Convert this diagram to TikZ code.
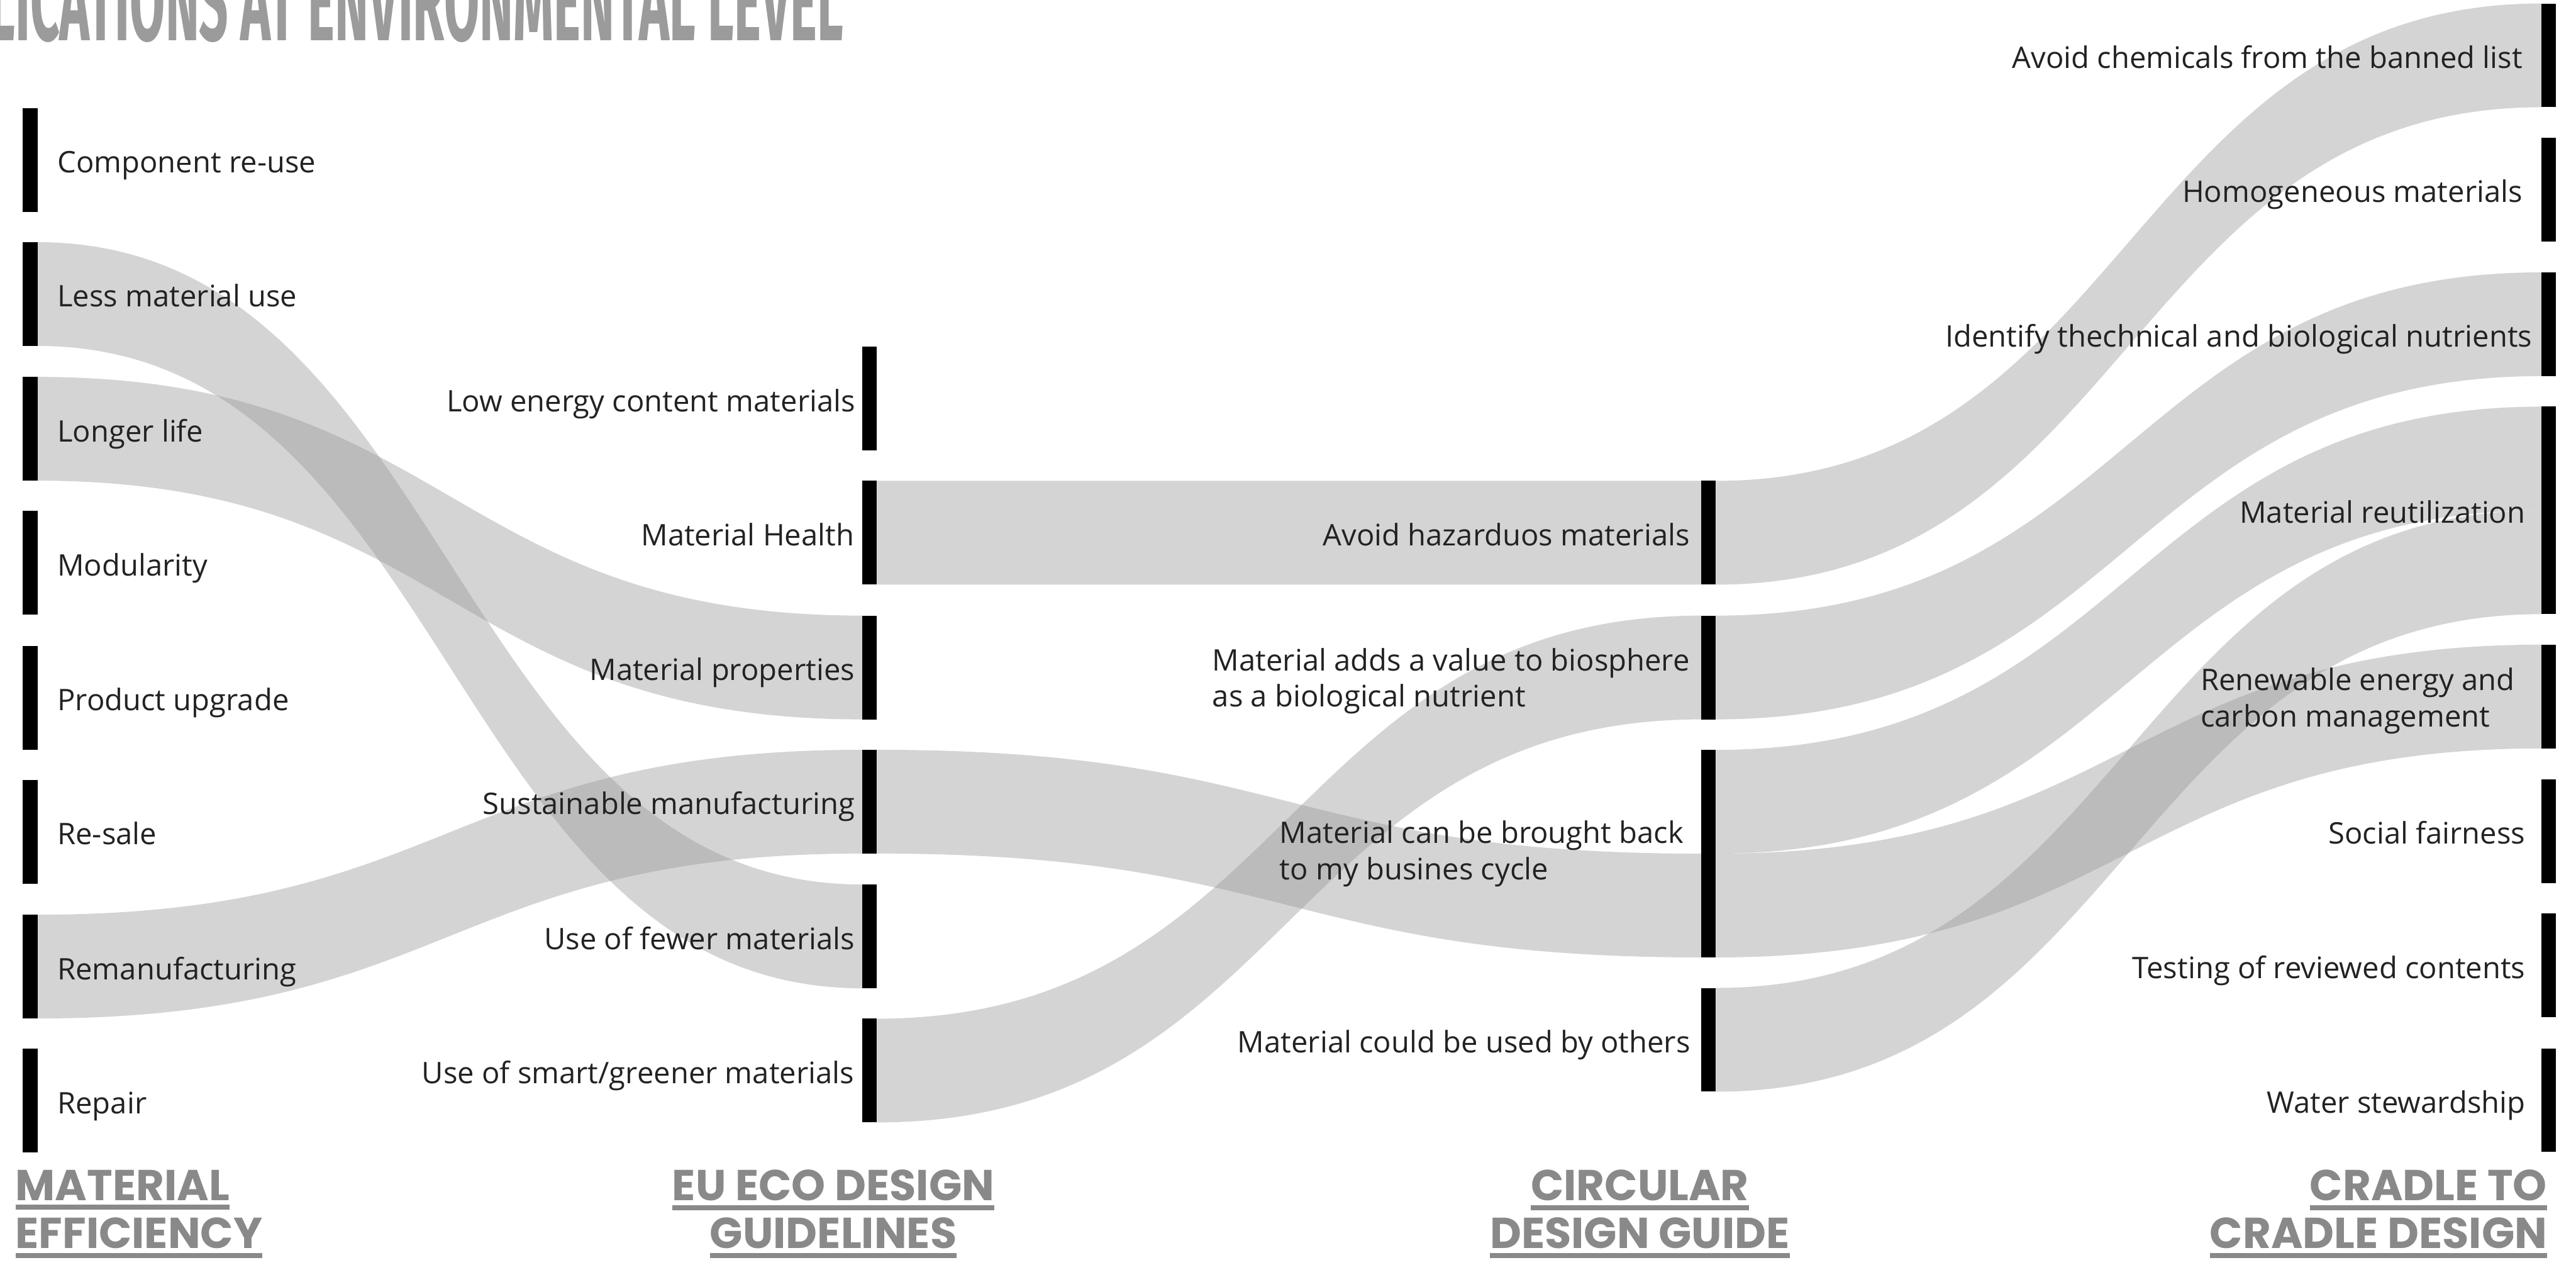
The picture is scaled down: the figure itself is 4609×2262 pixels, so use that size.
\documentclass[tikz,border=0pt]{standalone}
\usepackage{fontspec}
\setmainfont{Open Sans}
\newfontfamily\headfont{Poppins}
\newfontfamily\bannerfont{Fira Sans}
\usepackage{graphicx}
\usepackage{tikz}
\usetikzlibrary{backgrounds}
\usetikzlibrary{calc, positioning}
\definecolor{textgray}{HTML}{222222}
\definecolor{headgray}{HTML}{898989}
\definecolor{bannergray}{HTML}{9B9B9B}
\newcommand{\drawflow}[4]{\path ($(#1)!0.5!(#3)$) coordinate (fm);
  \fill[flow] (#1) .. controls (fm |- #1) and (fm |- #3) .. (#3) -- (#4) .. controls (fm |- #4) and (fm |- #2) .. (#2) -- cycle;}
\newcommand{\ulhead}[1]{\vtop{\hbox{#1}\kern0.08cm\hrule height 0.09cm}}
\tikzset{
    pillar/.style={rectangle, fill=black, inner sep=0, outer sep=0, minimum width=0.26cm, minimum height=1.855cm},
    tallpillar/.style={pillar, minimum height=3.71cm},
    lbl/.style={inner sep=0, text=textgray, font=\fontsize{15.1pt}{18.5pt}\selectfont, text height=0.52cm, text depth=0.06cm},
    lbltwo/.style={lbl, align=left, text height=1.17cm, text depth=0.24cm},
    heading/.style={inner sep=0, text=headgray, font=\headfont\bfseries\fontsize{22pt}{0.86cm}\selectfont},
    flow/.style={fill=black!42, fill opacity=0.4},
    banner/.style={inner sep=0, anchor=south east, text=bannergray, font=\bannerfont\bfseries}}

\begin{document}
\begin{tikzpicture}
[x=0.01cm, y=-0.01cm]
\useasboundingbox (0,0) rectangle (4609,2262);
\node[banner] (title) at (1510,77) {\resizebox{15.28cm}{1.42cm}{LICATIONS AT ENVIRONMENTAL LEVEL}};

% material efficiency
\node[pillar] (reuse)   at (54,286)  {};
\node[pillar] (less)    at (54,526)  {};
\node[pillar] (longer)  at (54,767)  {};
\node[pillar] (modular) at (54,1007) {};
\node[pillar] (upgrade) at (54,1248) {};
\node[pillar] (resale)  at (54,1488) {};
\node[pillar] (reman)   at (54,1729) {};
\node[pillar] (repair)  at (54,1969) {};
\node[lbl, right=0.35cm of reuse]   (reuse_t)   {Component re-use};
\node[lbl, right=0.35cm of less]    (less_t)    {Less material use};
\node[lbl, right=0.35cm of longer]  (longer_t)  {Longer life};
\node[lbl, right=0.35cm of modular] (modular_t) {Modularity};
\node[lbl, right=0.35cm of upgrade] (upgrade_t) {Product upgrade};
\node[lbl, right=0.35cm of resale]  (resale_t)  {Re-sale};
\node[lbl, right=0.35cm of reman]   (reman_t)   {Remanufacturing};
\node[lbl, right=0.35cm of repair]  (repair_t)  {Repair};

% eu eco design
\node[pillar] (lowenergy) at (1556,713)  {};
\node[pillar] (health)    at (1556,953)  {};
\node[pillar] (props)     at (1556,1194) {};
\node[pillar] (sustain)   at (1556,1434) {};
\node[pillar] (fewer)     at (1556,1675) {};
\node[pillar] (smart)     at (1556,1915) {};
\node[lbl, left=0.12cm of lowenergy] (lowenergy_t) {Low energy content materials};
\node[lbl, left=0.14cm of health]    (health_t)    {Material Health};
\node[lbl, left=0.13cm of props]     (props_t)     {Material properties};
\node[lbl, left=0.13cm of sustain]   (sustain_t)   {Sustainable manufacturing};
\node[lbl, left=0.13cm of fewer]     (fewer_t)     {Use of fewer materials};
\node[lbl, left=0.14cm of smart]     (smart_t)     {Use of smart/greener materials};

% circular design guide
\node[pillar]     (hazard) at (3057,953)  {};
\node[pillar]     (adds)   at (3057,1194) {};
\node[tallpillar] (back)   at (3057,1527) {};
\node[pillar]     (others) at (3057,1860) {};
\node[lbl, left=0.2cm of hazard] (hazard_t) {Avoid hazarduos materials};
\node[lbltwo, left=0.2cm of adds, yshift=-0.24cm] (adds_t) {Material adds a value to biosphere\\as a biological nutrient};
\node[lbltwo, left=0.31cm of back] (back_t) {Material can be brought back\\to my busines cycle};
\node[lbl, left=0.19cm of others] (others_t) {Material could be used by others};

% cradle to cradle
\node[pillar]     (chem)     at (4560,99)   {};
\node[pillar]     (homog)    at (4560,339)  {};
\node[pillar]     (identify) at (4560,580)  {};
\node[tallpillar] (reuti)    at (4560,913)  {};
\node[pillar]     (renew)    at (4560,1246) {};
\node[pillar]     (social)   at (4560,1487) {};
\node[pillar]     (testing)  at (4560,1727) {};
\node[pillar]     (water)    at (4560,1968) {};
\node[lbl, left=0.33cm of chem]     (chem_t)     {Avoid chemicals from the banned list};
\node[lbl, left=0.33cm of homog]    (homog_t)    {Homogeneous materials};
\node[lbl, left=0.16cm of identify, yshift=-0.17cm] (identify_t) {Identify thechnical and biological nutrients};
\node[lbl, left=0.28cm of reuti]    (reuti_t)    {Material reutilization};
\node[lbltwo, left=0.47cm of renew, yshift=-0.08cm] (renew_t) {Renewable energy and\\carbon management};
\node[lbl, left=0.28cm of social]   (social_t)   {Social fairness};
\node[lbl, left=0.28cm of testing]  (testing_t)  {Testing of reviewed contents};
\node[lbl, left=0.28cm of water]    (water_t)    {Water stewardship};

% column headings
\node[heading, align=left, anchor=base west] (head_me)  at (27,2233)   {\ulhead{MATERIAL}\\\ulhead{EFFICIENCY}};
\node[heading, align=center, anchor=base]    (head_eu)  at (1491,2233) {\ulhead{EU ECO DESIGN}\\\ulhead{GUIDELINES}};
\node[heading, align=center, anchor=base]    (head_cd)  at (2934,2233) {\ulhead{CIRCULAR}\\\ulhead{DESIGN GUIDE}};
\node[heading, align=right, anchor=base east] (head_cc) at (4558,2233) {\ulhead{CRADLE TO}\\\ulhead{CRADLE DESIGN}};

\begin{scope}[on background layer]
\drawflow{less.north east}{less.south east}{fewer.north west}{fewer.south west}
\drawflow{longer.north east}{longer.south east}{props.north west}{props.south west}
\drawflow{reman.north east}{reman.south east}{sustain.north west}{sustain.south west}
\drawflow{health.north east}{health.south east}{hazard.north west}{hazard.south west}
\drawflow{sustain.north east}{sustain.south east}{back.west}{back.south west}
\drawflow{smart.north east}{smart.south east}{adds.north west}{adds.south west}
\drawflow{hazard.north east}{hazard.south east}{chem.north west}{chem.south west}
\drawflow{adds.north east}{adds.south east}{identify.north west}{identify.south west}
\drawflow{back.north east}{back.east}{reuti.north west}{reuti.west}
\drawflow{back.east}{back.south east}{renew.north west}{renew.south west}
\drawflow{others.north east}{others.south east}{reuti.west}{reuti.south west}
\end{scope}
\end{tikzpicture}
\end{document}
